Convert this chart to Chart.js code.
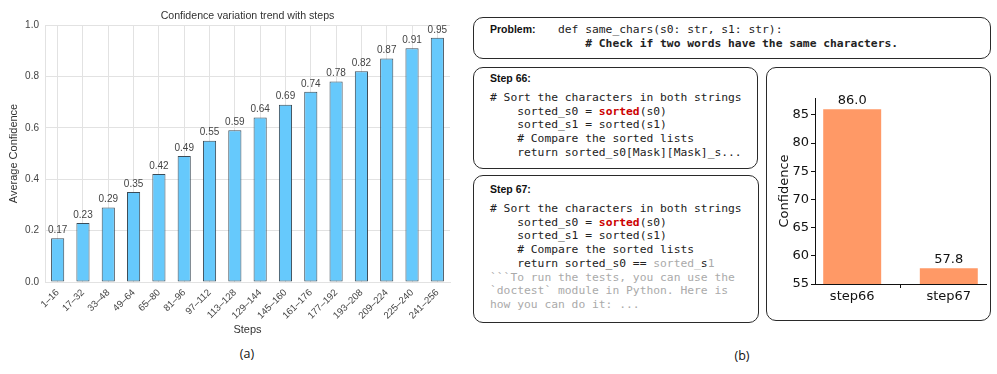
<!DOCTYPE html>
<html>
<head>
<meta charset="utf-8">
<script src="https://cdn.jsdelivr.net/npm/chart.js@4"></script>
<style>
  body { margin: 0; background: #fff; width: 997px; height: 374px; position: relative; overflow: hidden; }
  .abs { position: absolute; }
  .box { position: absolute; border: 1.4px solid #2a2a2a; border-radius: 10px; box-sizing: border-box; }
  .lbl { position: absolute; font-family: "Liberation Sans", sans-serif; font-weight: bold; font-size: 10.5px; color: #111; line-height: 14px; }
  pre { position: absolute; margin: 0; font-family: "DejaVu Sans Mono", monospace; font-size: 11.3px; line-height: 13.7px; color: #222; }
  .red { color: #cc0000; font-weight: bold; }
  .gray { color: #aaa; }
  .cap { position: absolute; font-family: "Open Sans", sans-serif; font-size: 12.5px; color: #111; transform: translate(-50%, -50%); }
</style>
</head>
<body>
<canvas id="trend" class="abs" width="470" height="341" style="left:0;top:0"></canvas>
<div class="cap" style="left:247px;top:353px">(a)</div>

<div class="box" style="left:473px;top:17px;width:518px;height:42px"></div>
<div class="lbl" style="left:490px;top:22px">Problem:</div>
<pre style="left:558px;top:23px">def same_chars(s0: str, s1: str):
    <b># Check if two words have the same characters.</b></pre>

<div class="box" style="left:473px;top:67px;width:285px;height:102px"></div>
<div class="lbl" style="left:490px;top:71px">Step 66:</div>
<pre style="left:490px;top:91px"># Sort the characters in both strings
    sorted_s0 = <span class="red">sorted</span>(s0)
    sorted_s1 = sorted(s1)
    # Compare the sorted lists
    return sorted_s0[Mask][Mask]_s...</pre>

<div class="box" style="left:473px;top:175px;width:286px;height:148px"></div>
<div class="lbl" style="left:490px;top:182px">Step 67:</div>
<pre style="left:490px;top:202px"># Sort the characters in both strings
    sorted_s0 = <span class="red">sorted</span>(s0)
    sorted_s1 = sorted(s1)
    # Compare the sorted lists
    return sorted_s0 == <span class="gray">sorted_</span>s<span class="gray">1</span>
<span class="gray">```To run the tests, you can use the
`doctest` module in Python. Here is
how you can do it: ...</span></pre>

<div class="box" style="left:766px;top:67px;width:225px;height:254px"></div>
<canvas id="compare" class="abs" width="223" height="251" style="left:767px;top:68px"></canvas>
<div class="cap" style="left:742px;top:355px">(b)</div>

<script>
// (a) average confidence per step range
var stepLabels = ['1–16', '17–32', '33–48', '49–64', '65–80', '81–96', '97–112', '113–128',
    '129–144', '145–160', '161–176', '177–192', '193–208', '209–224', '225–240', '241–256'];
var avgConfidence = [0.17, 0.23, 0.29, 0.35, 0.42, 0.49, 0.55, 0.59,
    0.64, 0.69, 0.74, 0.78, 0.82, 0.87, 0.91, 0.95];

// (b) confidence of the two decoding steps
var compareSteps = ['step66', 'step67'];
var compareConfidence = [86.0, 57.8];

var valueLabels = {
    id: 'valueLabels',
    afterDatasetsDraw: function(chart, args, opts) {
        var ctx = chart.ctx;
        var meta = chart.getDatasetMeta(0);
        var vals = chart.data.datasets[0].data;
        ctx.save();
        ctx.font = opts.font;
        ctx.fillStyle = opts.color;
        ctx.textAlign = 'center';
        ctx.textBaseline = 'bottom';
        meta.data.forEach(function(bar, i) {
            var v = typeof vals[i] === 'object' ? vals[i].y : vals[i];
            ctx.fillText(v.toFixed(opts.digits), bar.x, bar.y - opts.gap);
        });
        ctx.restore();
    }
};

// title centred over the plot area, like matplotlib does
var axesTitle = {
    id: 'axesTitle',
    afterDraw: function(chart, args, opts) {
        if (!opts.text) return;
        var a = chart.chartArea;
        var ctx = chart.ctx;
        ctx.save();
        ctx.font = opts.font;
        ctx.fillStyle = opts.color;
        ctx.textAlign = 'center';
        ctx.textBaseline = 'middle';
        ctx.fillText(opts.text, (a.left + a.right) / 2, a.top - opts.gap);
        ctx.restore();
    }
};

var gridGray = '#e2e2e2';
var sansA = 'Liberation Sans';

new Chart(document.getElementById('trend'), {
    type: 'bar',
    data: {
        labels: stepLabels,
        datasets: [{
            data: avgConfidence,
            backgroundColor: '#66c9fc',
            borderColor: '#3b4b57',
            borderWidth: 1,
            borderSkipped: false,
            barPercentage: 0.52,
            categoryPercentage: 1
        }]
    },
    options: {
        responsive: false,
        animation: false,
        devicePixelRatio: 1,
        layout: { padding: { left: 0, right: 20, top: 25, bottom: 0 } },
        plugins: {
            legend: { display: false },
            tooltip: { enabled: false },
            axesTitle: { text: 'Confidence variation trend with steps', font: '10.6px "Liberation Sans"', color: '#333', gap: 9 },
            valueLabels: { font: '10px "Liberation Sans"', color: '#444', gap: 3, digits: 2 }
        },
        scales: {
            x: {
                grid: { color: gridGray, offset: false, drawTicks: false },
                border: { color: gridGray },
                ticks: {
                    minRotation: 45, maxRotation: 45, autoSkip: false, padding: 5,
                    color: '#444', font: { family: sansA, size: 9.6 }
                },
                title: { display: true, text: 'Steps', color: '#333', font: { family: sansA, size: 11 }, padding: { top: 0, bottom: 4 } },
                afterFit: function(s) { s.height = 59; }
            },
            y: {
                min: 0,
                max: 1,
                grid: { color: gridGray, drawTicks: false },
                border: { color: gridGray },
                ticks: {
                    stepSize: 0.2, padding: 6, color: '#444', font: { family: sansA, size: 10 },
                    callback: function(v) { return v.toFixed(1); }
                },
                title: { display: true, text: 'Average Confidence', color: '#333', font: { family: sansA, size: 11 }, padding: { top: 7, bottom: 0 } },
                afterFit: function(s) { s.width = 45; }
            }
        }
    },
    plugins: [valueLabels, axesTitle]
});

var dv = 'DejaVu Sans';
new Chart(document.getElementById('compare'), {
    type: 'bar',
    data: {
        datasets: [{
            data: compareConfidence.map(function(v, i) { return { x: i, y: v }; }),
            backgroundColor: '#ff9966',
            barPercentage: 0.6,
            categoryPercentage: 1,
            clip: 0
        }]
    },
    options: {
        responsive: false,
        animation: false,
        devicePixelRatio: 1,
        layout: { padding: { left: 0, right: 4, top: 30, bottom: 0 } },
        plugins: {
            legend: { display: false },
            tooltip: { enabled: false },
            valueLabels: { font: '13px "DejaVu Sans"', color: '#111', gap: 2, digits: 1 }
        },
        scales: {
            x: {
                type: 'linear',
                min: -0.385,
                max: 1.385,
                offset: false,
                afterBuildTicks: function(s) { s.ticks = compareSteps.map(function(_, i) { return { value: i }; }); },
                grid: { drawOnChartArea: false, drawTicks: true, tickLength: 4, color: '#111' },
                border: { color: '#111' },
                ticks: {
                    autoSkip: false, maxRotation: 0, padding: 1, color: '#111', font: { family: dv, size: 13 },
                    callback: function(v) { return compareSteps[v]; }
                },
                afterFit: function(s) { s.height = 35; }
            },
            y: {
                min: 55,
                max: 88,
                grid: { drawOnChartArea: false, drawTicks: true, tickLength: 4, color: '#111' },
                border: { color: '#111' },
                ticks: { stepSize: 5, includeBounds: false, padding: 2, color: '#111', font: { family: dv, size: 13 } },
                title: { display: true, text: 'Confidence', color: '#111', font: { family: dv, size: 13 }, padding: { top: 10, bottom: 0 } },
                afterFit: function(s) { s.width = 48; }
            }
        }
    },
    plugins: [valueLabels]
});
</script>
</body>
</html>
